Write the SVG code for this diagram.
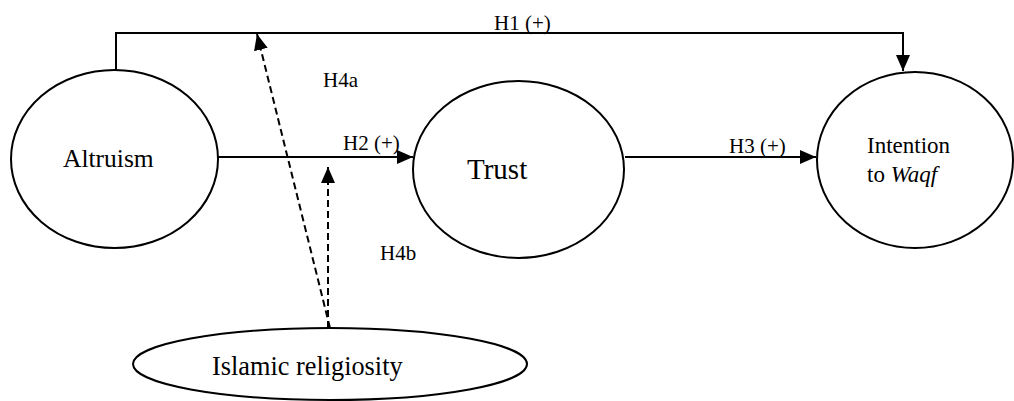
<svg xmlns="http://www.w3.org/2000/svg" width="1014" height="401" viewBox="0 0 1014 401">
<style>
.node{fill:#fff;stroke:#000;stroke-width:2}
.lbl{font-family:"Liberation Serif","Times New Roman",serif;fill:#000}
.edge{fill:none;stroke:#000;stroke-width:2}
.dash{stroke-dasharray:7 4}
</style>
<defs>
<marker id="arr" markerUnits="userSpaceOnUse" viewBox="0 0 16 14" refX="16" refY="7" markerWidth="16" markerHeight="14" orient="auto">
<path d="M0,0 L16,7 L0,14 z" fill="#000"/>
</marker>
</defs>
<g id="connectors">
<path class="edge" d="M116,70 V33 H903 V71" marker-end="url(#arr)"/>
<path class="edge" d="M218,157 H413" marker-end="url(#arr)"/>
<path class="edge" d="M625,157 H816" marker-end="url(#arr)"/>
<path class="edge dash" d="M330,328 L257,34" marker-end="url(#arr)"/>
<path class="edge dash" d="M328,328 V167" marker-end="url(#arr)"/>
<text class="lbl" x="494" y="30" font-size="21">H1 (+)</text>
<text class="lbl" x="323" y="87" font-size="21">H4a</text>
<text class="lbl" x="343" y="150" font-size="21">H2 (+)</text>
<text class="lbl" x="729" y="153" font-size="21">H3 (+)</text>
<text class="lbl" x="380" y="260" font-size="21">H4b</text>
</g>
<g id="altruism">
<ellipse class="node" cx="114.5" cy="159" rx="103.5" ry="89"/>
<text class="lbl" x="63" y="167" font-size="25.5">Altruism</text>
</g>
<g id="trust">
<ellipse class="node" cx="518.5" cy="169.5" rx="105.5" ry="88.5"/>
<text class="lbl" x="467" y="179" font-size="29">Trust</text>
</g>
<g id="intention">
<ellipse class="node" cx="915" cy="160" rx="98" ry="88"/>
<text class="lbl" x="867" y="153" font-size="23">Intention</text>
<text class="lbl" x="867" y="182" font-size="23">to <tspan font-style="italic">Waqf</tspan></text>
</g>
<g id="religiosity">
<ellipse class="node" cx="330" cy="364" rx="197" ry="36"/>
<text class="lbl" x="212" y="375" font-size="26.3">Islamic religiosity</text>
</g>
</svg>
